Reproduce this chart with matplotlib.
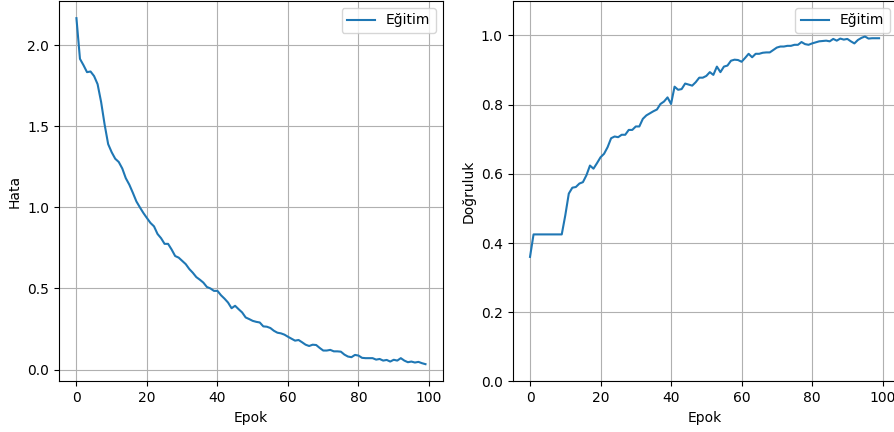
import numpy as np
import matplotlib
matplotlib.use("Agg")
import matplotlib.pyplot as plt

epochs = np.arange(100)

loss = [2.167, 1.916, 1.877, 1.834, 1.838, 1.81, 1.76, 1.65, 1.51, 1.39,
        1.34, 1.30, 1.28, 1.24, 1.18, 1.14, 1.09, 1.037, 1.0, 0.965,
        0.934, 0.904, 0.883, 0.836, 0.81, 0.775, 0.775, 0.74, 0.70, 0.69,
        0.67, 0.65, 0.62, 0.597, 0.57, 0.554, 0.536, 0.509, 0.50, 0.485,
        0.485, 0.458, 0.437, 0.413, 0.378, 0.393, 0.372, 0.352, 0.321, 0.311,
        0.30, 0.294, 0.29, 0.266, 0.264, 0.256, 0.239, 0.227, 0.223, 0.215,
        0.202, 0.19, 0.178, 0.182, 0.168, 0.153, 0.145, 0.153, 0.151, 0.133,
        0.117, 0.117, 0.121, 0.112, 0.112, 0.11, 0.092, 0.08, 0.076, 0.09,
        0.086, 0.072, 0.07, 0.07, 0.07, 0.061, 0.065, 0.055, 0.059, 0.049,
        0.06, 0.055, 0.07, 0.055, 0.045, 0.049, 0.043, 0.047, 0.039, 0.033]

acc = [0.36, 0.425, 0.425, 0.425, 0.425, 0.425, 0.425, 0.425, 0.425, 0.425,
       0.48, 0.543, 0.56, 0.562, 0.572, 0.576, 0.596, 0.624, 0.615, 0.631,
       0.648, 0.658, 0.677, 0.703, 0.708, 0.706, 0.713, 0.713, 0.727, 0.727,
       0.737, 0.737, 0.759, 0.769, 0.775, 0.781, 0.786, 0.802, 0.809, 0.821,
       0.802, 0.852, 0.843, 0.845, 0.861, 0.858, 0.855, 0.865, 0.878, 0.878,
       0.883, 0.894, 0.886, 0.91, 0.894, 0.91, 0.913, 0.927, 0.93, 0.929,
       0.924, 0.935, 0.947, 0.937, 0.947, 0.947, 0.95, 0.951, 0.951, 0.958,
       0.965, 0.968, 0.968, 0.97, 0.97, 0.973, 0.973, 0.981, 0.975, 0.973,
       0.977, 0.98, 0.983, 0.984, 0.985, 0.983, 0.99, 0.985, 0.991, 0.988,
       0.99, 0.983, 0.977, 0.987, 0.993, 0.997, 0.991, 0.992, 0.992, 0.992]

fig = plt.figure(figsize=(8.95, 4.32), dpi=100)
ax1 = fig.add_axes([0.0659, 0.117, 0.429, 0.881])
ax2 = fig.add_axes([0.5727, 0.117, 0.429, 0.881])

ax1.plot(epochs, loss, label="Eğitim")
ax1.set_xlabel("Epok")
ax1.set_ylabel("Hata")
ax1.legend(loc="upper right")
ax1.grid(True)

ax2.plot(epochs, acc, label="Eğitim")
ax2.set_ylim(0, 1.1)
ax2.set_xlabel("Epok")
ax2.set_ylabel("Doğruluk")
ax2.legend(loc="upper right")
ax2.grid(True)

fig.savefig("out.png", dpi=100)
